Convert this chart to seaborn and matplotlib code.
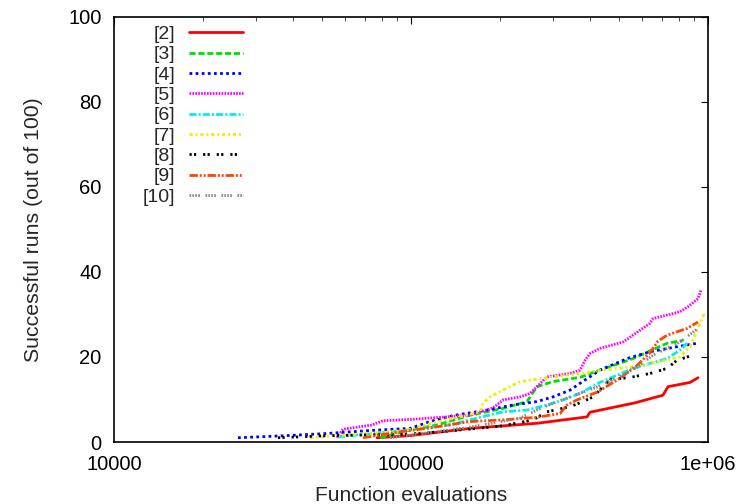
import matplotlib
matplotlib.use("Agg")
import matplotlib.pyplot as plt
import seaborn as sns
import pandas as pd
from matplotlib.ticker import FixedLocator, FixedFormatter, LogLocator, NullFormatter

# ---- data (function evaluations, successful runs) ----
labels = ["[2]", "[3]", "[4]", "[5]", "[6]", "[7]", "[8]", "[9]", "[10]"]

s2_x = [76900, 99300, 158000, 265600, 391400, 400600, 567500, 705000, 733400, 869800, 925400]
s2_y = [1, 1.5, 3.2, 4.4, 5.9, 7, 9.2, 11, 13, 14, 15.1]

s3_x = [78700, 99300, 122300, 158000, 204100, 245800, 265600, 300700, 370700, 432900, 559100, 727800, 823900]
s3_y = [1, 2.8, 4, 6.3, 7.9, 9.5, 13, 14.2, 15.2, 16.9, 19.6, 23.2, 23.9]

s4_x = [26150, 38230, 52100, 72700, 99300, 115900, 138500, 180300, 220500, 265600, 300700, 343200, 370700,
        432900, 533700, 637800, 786500, 918300]
s4_y = [1, 1.5, 2, 2.7, 3.2, 4.8, 6.2, 7.5, 8.7, 9.5, 10.6, 12.2, 13.8, 16.9, 19.6, 21.2, 22.4, 23.2]

s5_x = [56300, 59000, 73900, 80500, 99300, 158000, 188900, 204100, 232800, 251600, 265600, 287000, 343200,
        370700, 385300, 400600, 432900, 517400, 637800, 652800, 805000, 856500, 925400, 947200]
s5_y = [1, 3, 4, 5, 5.3, 6.3, 8, 9.9, 10.6, 11.4, 13, 15.3, 16.1, 16.9, 19.2, 20.8, 22, 23.5, 27.9, 29,
        30.6, 31.8, 33.7, 35.7]

s6_x = [56800, 91900, 135300, 158000, 204100, 245800, 287000, 325000, 370700, 426200, 559100, 727800,
        805000, 849900]
s6_y = [1.2, 2.6, 4, 5.2, 7.1, 7.5, 8.7, 9.9, 11.4, 13.8, 17.3, 19.6, 21.6, 23.2]

s7_x = [45700, 94000, 118600, 158000, 170700, 174800, 184500, 204100, 232800, 300700, 370700, 432900,
        559100, 689300, 805000, 869800, 918300, 977000]
s7_y = [1, 2.6, 4.5, 6.5, 7.1, 9.1, 10.6, 12.2, 14.2, 15.3, 16.1, 16.8, 17.7, 18.9, 20, 22.4, 26.3, 30.6]

s8_x = [35650, 53300, 91900, 107200, 166900, 204100, 257600, 287000, 343200, 379400, 410100, 467700,
        559100, 637800, 727800, 786500, 869800]
s8_y = [1, 1.5, 1.8, 2, 3.2, 3.8, 5.2, 7.1, 8.3, 9.5, 10.6, 14.6, 15.3, 16.1, 17.3, 19.2, 20.2]

s9_x = [68900, 91900, 113200, 158000, 204100, 265600, 317500, 335300, 362300, 426200, 505500, 576800,
        637800, 678600, 727800, 849900, 925400]
s9_y = [1, 2.4, 3.2, 4.8, 5.2, 5.8, 6.7, 8.7, 9.9, 11.8, 15, 18, 21, 23.7, 25.1, 26.7, 28.2]

s10_x = [85000, 158000, 232800, 265600, 300700, 343200, 426200, 559100, 652800, 805000, 925400]
s10_y = [1, 3.5, 5.6, 7.5, 9.1, 10.6, 13, 16.9, 20.4, 23.5, 26.7]

xtick_values = [10000, 100000, 1000000]
xtick_labels = ["10000", "100000", "1e+06"]
ytick_values = [0, 20, 40, 60, 80, 100]

series_x = [s2_x, s3_x, s4_x, s5_x, s6_x, s7_x, s8_x, s9_x, s10_x]
series_y = [s2_y, s3_y, s4_y, s5_y, s6_y, s7_y, s8_y, s9_y, s10_y]

frames = []
for lab, xs, ys in zip(labels, series_x, series_y):
    frames.append(pd.DataFrame({"evals": xs, "runs": ys, "series": lab}))
df = pd.concat(frames, ignore_index=True)

colors = ["#ff0000", "#00e000", "#0000ff", "#ff00ff", "#00eeee", "#eeee00", "#000000", "#ff4500", "#888888"]
dash_styles = ["", (2.2, 1.0), (1.0, 1.2), (0.6, 0.45), (2.5, 0.8, 0.7, 0.8), (1.2, 1.0, 0.7, 1.0),
               (0.8, 0.8, 0.8, 2.5), (3.0, 0.7, 0.7, 0.7, 0.7, 0.7), (0.6, 0.45, 0.6, 0.45, 0.6, 0.45, 0.6, 2.0)]

sns.set_style("white")
plt.rcParams["font.family"] = ["Liberation Sans", "DejaVu Sans"]

fig = plt.figure(figsize=(7.53, 5.04), dpi=100)
ax = fig.add_axes([114 / 753, 1 - 442 / 504, 594 / 753, 425.5 / 504])

sns.lineplot(data=df, x="evals", y="runs", hue="series", style="series",
             hue_order=labels, style_order=labels,
             palette=dict(zip(labels, colors)), dashes=dict(zip(labels, dash_styles)),
             estimator=None, sort=False, legend=False, lw=2.0, ax=ax)

ax.set_xscale("log")
ax.set_xlim(10000, 1000000)
ax.set_ylim(0, 100)
ax.xaxis.set_major_locator(FixedLocator(xtick_values))
ax.xaxis.set_major_formatter(FixedFormatter(xtick_labels))
ax.xaxis.set_minor_locator(LogLocator(base=10, subs=[2, 3, 4, 5, 6, 7, 8, 9]))
ax.xaxis.set_minor_formatter(NullFormatter())
ax.set_yticks(ytick_values)

for s in ax.spines.values():
    s.set_color("black")
    s.set_linewidth(1.2)

ax.tick_params(axis="both", which="major", direction="in", length=5, width=0.8,
               top=True, right=True, labelsize=14.5, pad=9, colors="black")
ax.tick_params(axis="x", which="minor", direction="in", length=3, width=0.6, top=True)
ax.tick_params(axis="y", which="minor", left=False, right=False)

ax.set_xlabel("Function evaluations", fontsize=15, labelpad=9)
ax.set_ylabel("Successful runs (out of 100)", fontsize=15.3, labelpad=18)

leg = ax.legend(ax.get_lines()[:len(labels)], labels, loc="upper right",
                markerfirst=False, frameon=False,
                handlelength=2.8, handletextpad=0.7, labelspacing=0.14, borderpad=0, borderaxespad=0,
                fontsize=14)
leg.set_bbox_to_anchor(((243 - 114) / 594, 1 - 9 / 425.5), transform=ax.transAxes)

fig.savefig("out.png", dpi=100, facecolor="white")
